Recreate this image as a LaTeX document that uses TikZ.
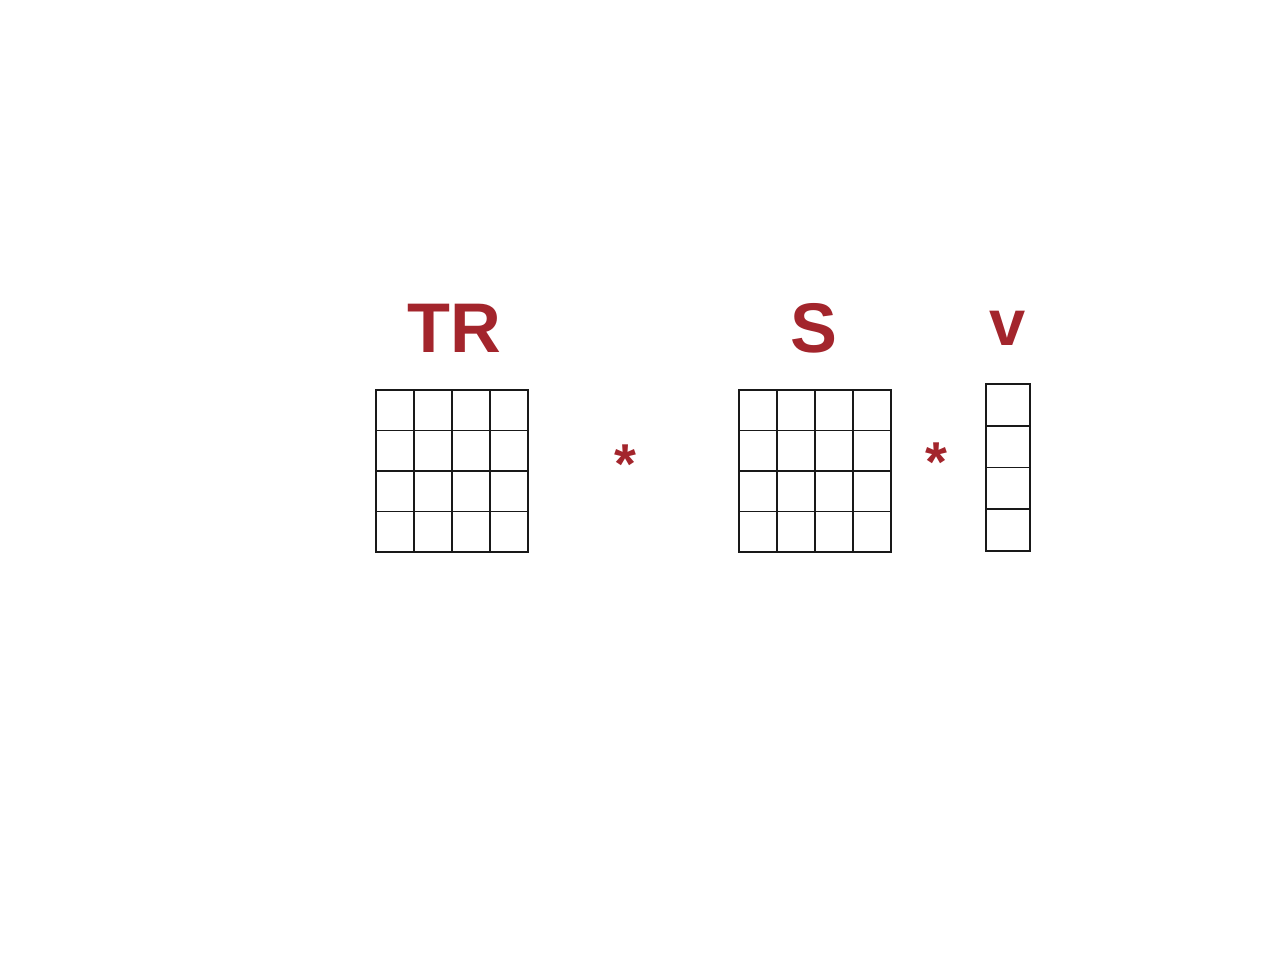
\documentclass[tikz,border=0pt]{standalone}
\usepackage{fontspec}
\setmainfont{Liberation Sans}
\definecolor{lbl}{HTML}{A3252C}
\begin{document}
\begin{tikzpicture}[x=0.02cm,y=-0.02cm,
  lab/.style={text=lbl,font=\fontsize{40}{44}\selectfont\bfseries,inner sep=0pt,anchor=base},
  op/.style={text=lbl,font=\fontsize{32}{36}\selectfont\bfseries,inner sep=0pt},
  gridline/.style={draw=black!90,line width=1.1pt}]
\useasboundingbox (0,0) rectangle (1280,960);
% TR and S matrices
\foreach \x in {376,739}{
  \foreach \i in {1,2,3}{
    \draw[gridline] ({\x+38*\i},390) -- ({\x+38*\i},552);
    \draw[gridline] (\x,{390+40.5*\i}) -- ({\x+152},{390+40.5*\i});
  }
  \draw[gridline] (\x,390) rectangle ({\x+152},552);
}
% v vector
\foreach \i in {0,1,2,3}{
  \draw[gridline] (986,{384+41.75*\i}) rectangle (1030,{384+41.75*(\i+1)});
}
\node[lab] (tr) at (454,352) {TR};
\node[lab] (s) at (814,352) {S};
\node[lab] (v) at (1008,345) {\fontsize{37}{40}\selectfont v};
\node[op] (m1) at (625,464) {*};
\node[op] (m2) at (936,462) {*};
\end{tikzpicture}
\end{document}
